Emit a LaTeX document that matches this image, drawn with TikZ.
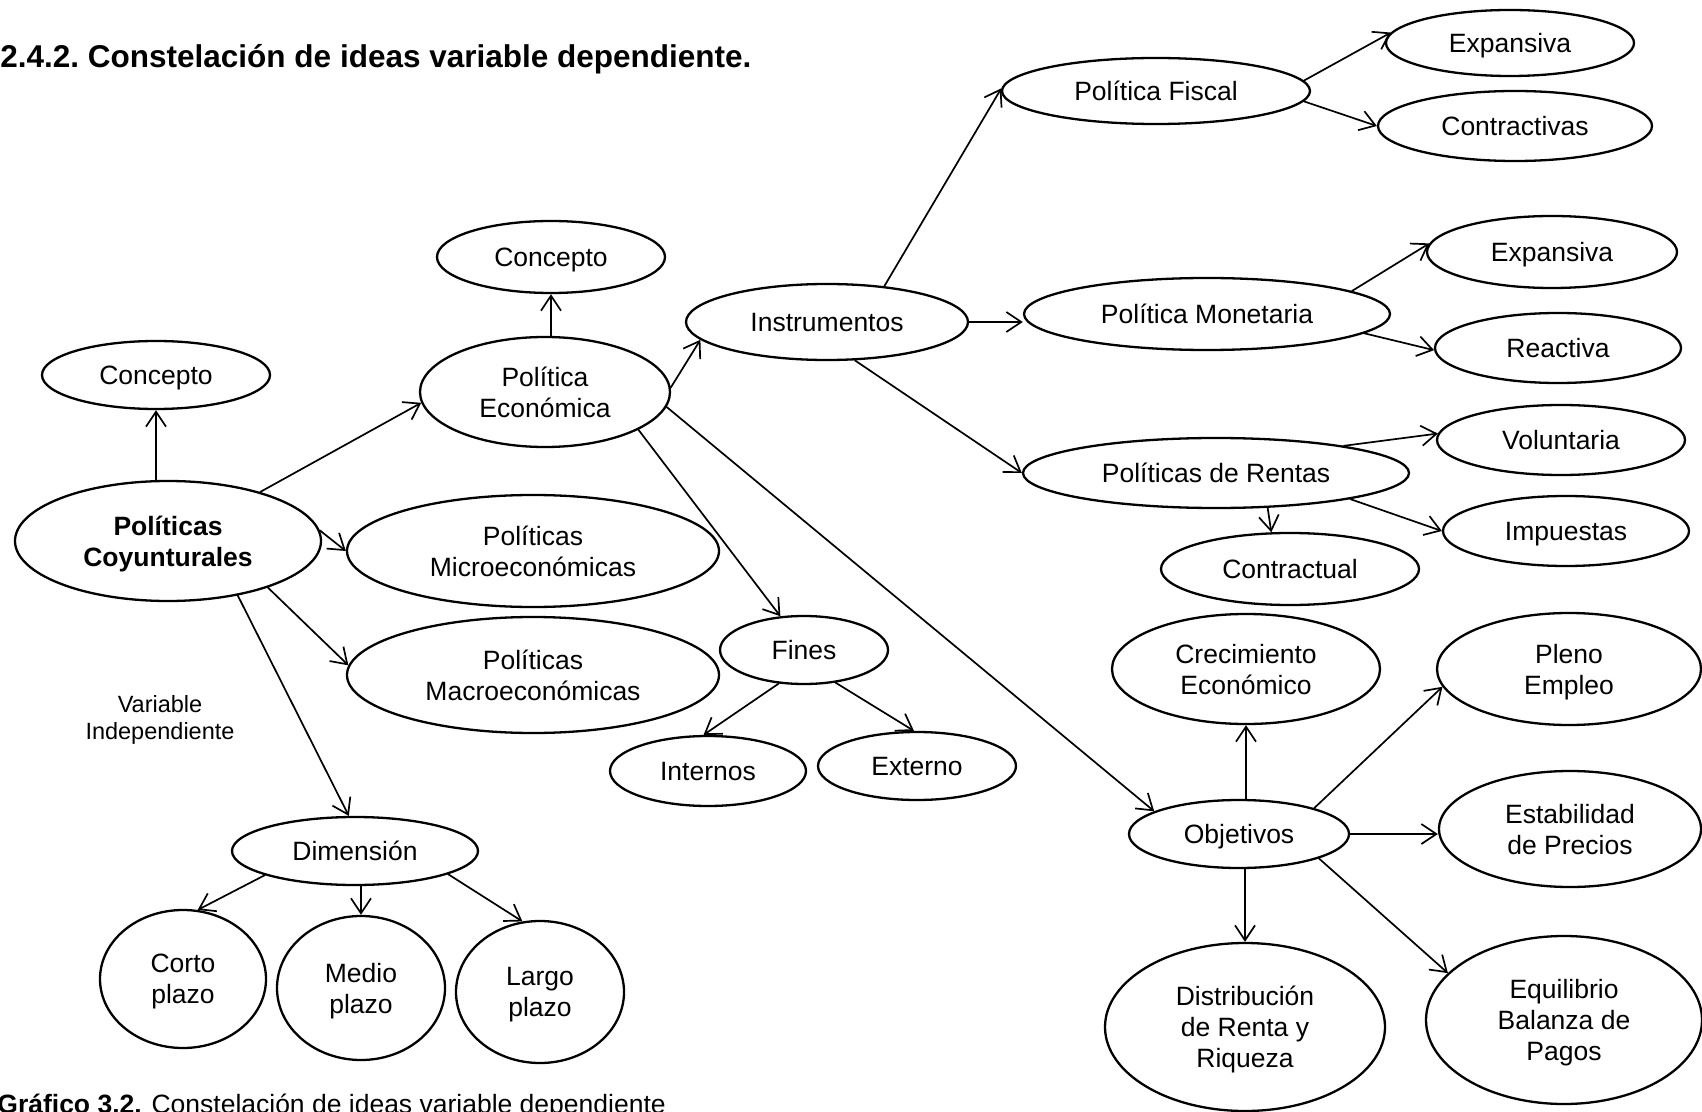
\documentclass[tikz,border=0pt]{standalone}
\usepackage{fontspec}
\setmainfont{Liberation Sans}
\usetikzlibrary{shapes.geometric,arrows.meta}
\begin{document}
\begin{tikzpicture}[x=0.5pt,y=-0.5pt,
  ell/.style 2 args={ellipse, draw, line width=1.15pt, inner sep=0pt,
    minimum width=#1*0.5pt, minimum height=#2*0.5pt, align=center, text depth=0pt,
    font=\fontsize{13.25pt}{15.5pt}\selectfont},
  arr/.style={line width=0.85pt, line cap=round, -{Straight Barb[length=7.5pt,width=10pt]}}]
\useasboundingbox[fill=white] (0,0) rectangle (1702,1112);

% title and caption
\node[anchor=west, inner sep=0pt, font=\bfseries\fontsize{15.75pt}{18pt}\selectfont] (title) at (0,59)
  {\frenchspacing 2.4.2. Constelación de ideas variable dependiente.};
\node[anchor=base west, inner sep=0pt, font=\fontsize{13.25pt}{15.5pt}\selectfont] (caption) at (-3,1113)
  {\textbf{Gráfico 3.2.} Constelación de ideas variable dependiente};
\node[align=center, inner sep=0pt, font=\fontsize{11.75pt}{13.5pt}\selectfont] (vi) at (160,720)
  {Variable\\Independiente};

% nodes
\node[ell={308}{66}] (PF) at (1156,91) {Política Fiscal};
\node[ell={248}{66}] (E1) at (1510,43) {Expansiva};
\node[ell={274}{70}] (C1) at (1515,126) {Contractivas};
\node[ell={228}{72}] (CP2) at (551,257) {Concepto};
\node[ell={282}{76}] (INS) at (827,322) {Instrumentos};
\node[ell={250}{72}] (E2) at (1552,252) {Expansiva};
\node[ell={366}{72}] (PM) at (1207,314) {Política Monetaria};
\node[ell={246}{70}] (RE) at (1558,348) {Reactiva};
\node[ell={228}{68}] (CP1) at (156,375) {Concepto};
\node[ell={250}{110}] (PE) at (545,392) {Política\\Económica};
\node[ell={248}{70}] (VO) at (1561,440) {Voluntaria};
\node[ell={386}{70}] (PR) at (1216,473) {Políticas de Rentas};
\node[ell={246}{70}] (IM) at (1566,531) {Impuestas};
\node[ell={306}{120}, font=\bfseries\fontsize{13.25pt}{15.5pt}\selectfont] (PC) at (168,541) {Políticas\\Coyunturales};
\node[ell={372}{112}] (MI) at (533,551) {Políticas\\Microeconómicas};
\node[ell={258}{72}] (CT) at (1290,569) {Contractual};
\node[ell={372}{116}] (MA) at (533,675) {Políticas\\Macroeconómicas};
\node[ell={168}{68}] (FI) at (804,650) {Fines};
\node[ell={268}{110}] (CE) at (1246,669) {Crecimiento\\Económico};
\node[ell={264}{112}] (PL) at (1569,669) {Pleno\\Empleo};
\node[ell={196}{70}] (IN) at (708,771) {Internos};
\node[ell={198}{68}] (EX) at (917,766) {Externo};
\node[ell={220}{68}] (OB) at (1239,834) {Objetivos};
\node[ell={262}{116}] (EP) at (1570,829) {Estabilidad\\de Precios};
\node[ell={246}{68}] (DI) at (355,851) {Dimensión};
\node[ell={166}{138}] (CO) at (183,979) {Corto\\plazo};
\node[ell={168}{144}] (ME) at (361,988) {Medio\\plazo};
\node[ell={168}{142}] (LA) at (540,992) {Largo\\plazo};
\node[ell={280}{168}] (DR) at (1245,1027) {Distribución\\de Renta y\\Riqueza};
\node[ell={276}{168}] (EB) at (1564,1020) {Equilibrio\\Balanza de\\Pagos};

% connectors
\draw[arr] (CP1.south |- PC.north) -- (CP1.south);
\draw[arr] (PC.28) -- (PE.185);
\draw[arr] (PC.4) -- (MI.180);
\draw[arr] (PC.-25) -- (MA.177);
\draw[arr] (PC.-38) -- (DI.100);
\draw[arr] (CP2.south |- PE.north) -- (CP2.south);
\draw[arr] (PE.2) -- (INS.188);
\draw[arr] (PE.-22) -- (FI.125);
\draw[arr] (PE.-7.6) -- (OB.165);
\draw[arr] (INS.32) -- (PF.179);
\draw[arr] (INS.east) -- (INS.east -| PM.west);
\draw[arr] (INS.-54) -- (PR.180);
\draw[arr] (PF.4) -- (E1.175);
\draw[arr] (PF.-4) -- (C1.180);
\draw[arr] (PM.9) -- (E2.176);
\draw[arr] (PM.-7.5) -- (RE.181);
\draw[arr] (PR.12) -- (VO.177);
\draw[arr] (PR.-11) -- (IM.180);
\draw[arr] (PR.-34) -- (CT.117);
\draw[arr] (FI.233) -- (IN.97);
\draw[arr] (FI.-46) -- (EX.95);
\draw[arr] (DI.195) -- (CO.78);
\draw[arr] (ME.north |- DI.south) -- (ME.north);
\draw[arr] (DI.-14) -- (LA.104);
\draw[arr] (CE.south |- OB.north) -- (CE.south);
\draw[arr] (OB.19) -- (PL.188);
\draw[arr] (OB.east) -- (OB.east -| EP.west);
\draw[arr] (DR.north |- OB.south) -- (DR.north);
\draw[arr] (OB.-17.5) -- (EB.158);
\end{tikzpicture}
\end{document}
